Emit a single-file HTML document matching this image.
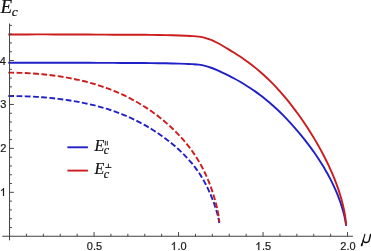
<!DOCTYPE html>
<html><head><meta charset="utf-8"><style>
html,body{margin:0;padding:0;background:#fff;}
body{width:371px;height:251px;overflow:hidden;}
svg{display:block;will-change:transform;}
.ax line{stroke:#484848;stroke-width:1;}
.ax line.m{stroke:#404040;stroke-width:1;}
.lab text{font-family:"Liberation Sans",sans-serif;font-size:11px;fill:#1a1a1a;stroke:#1a1a1a;stroke-width:0.2px;}
.lab path{fill:#1a1a1a;stroke:#1a1a1a;stroke-width:40;}
.it{font-family:"Liberation Serif",serif;font-style:italic;fill:#111;stroke:#111;stroke-width:0.2px;}
</style></head><body>
<svg width="371" height="251" viewBox="0 0 371 251">
<rect width="371" height="251" fill="#fff"/>
<g fill="none" stroke-width="1.9" stroke-linecap="butt" stroke-linejoin="round">
<path d="M8.30 62.81 C9.88 62.80 14.65 62.79 17.79 62.79 C20.93 62.78 24.05 62.77 27.15 62.77 C30.24 62.77 33.32 62.76 36.37 62.76 C39.42 62.76 42.45 62.76 45.45 62.76 C48.46 62.76 51.44 62.76 54.40 62.76 C57.37 62.77 60.30 62.77 63.22 62.77 C66.14 62.77 69.03 62.78 71.90 62.78 C74.77 62.79 77.62 62.79 80.45 62.80 C83.27 62.81 86.07 62.81 88.85 62.82 C91.64 62.83 94.39 62.83 97.13 62.84 C99.87 62.85 102.58 62.86 105.27 62.87 C107.96 62.88 110.63 62.89 113.27 62.90 C115.92 62.91 118.54 62.91 121.14 62.93 C123.74 62.94 126.32 62.95 128.88 62.96 C131.43 62.97 133.97 62.98 136.48 63.00 C138.99 63.01 141.47 63.03 143.94 63.05 C146.41 63.07 148.85 63.09 151.27 63.11 C153.69 63.14 156.09 63.17 158.46 63.20 C160.84 63.23 163.19 63.27 165.52 63.32 C167.85 63.36 170.16 63.41 172.44 63.46 C174.73 63.52 176.99 63.57 179.23 63.64 C181.47 63.71 183.69 63.78 185.88 63.86 C188.08 63.95 190.25 64.01 192.40 64.14 C194.55 64.27 196.68 64.36 198.78 64.64 C200.89 64.92 202.97 65.29 205.03 65.81 C207.09 66.33 209.13 67.04 211.14 67.76 C213.16 68.49 215.15 69.32 217.12 70.16 C219.09 71.00 221.04 71.90 222.96 72.81 C224.89 73.71 226.79 74.65 228.67 75.61 C230.55 76.56 232.41 77.53 234.24 78.52 C236.07 79.51 237.89 80.51 239.68 81.54 C241.47 82.57 243.23 83.62 244.98 84.69 C246.72 85.77 248.44 86.86 250.14 87.97 C251.84 89.09 253.52 90.23 255.17 91.39 C256.83 92.55 258.46 93.74 260.07 94.95 C261.68 96.16 263.27 97.40 264.83 98.66 C266.39 99.92 267.94 101.20 269.46 102.50 C270.98 103.80 272.47 105.12 273.95 106.46 C275.42 107.79 276.87 109.14 278.30 110.51 C279.73 111.87 281.14 113.25 282.52 114.64 C283.90 116.03 285.27 117.43 286.61 118.84 C287.94 120.24 289.26 121.66 290.55 123.08 C291.85 124.50 293.12 125.92 294.37 127.35 C295.62 128.77 296.84 130.20 298.05 131.63 C299.25 133.05 300.43 134.48 301.59 135.90 C302.75 137.32 303.89 138.74 305.00 140.16 C306.12 141.57 307.21 142.99 308.28 144.40 C309.34 145.81 310.39 147.22 311.41 148.62 C312.44 150.02 313.44 151.42 314.42 152.82 C315.40 154.22 316.35 155.61 317.29 157.00 C318.22 158.39 319.13 159.78 320.02 161.16 C320.91 162.55 321.77 163.92 322.62 165.30 C323.46 166.68 324.28 168.05 325.08 169.42 C325.88 170.79 326.65 172.15 327.41 173.51 C328.16 174.87 328.89 176.23 329.60 177.58 C330.31 178.93 330.99 180.28 331.66 181.62 C332.32 182.96 332.96 184.30 333.58 185.63 C334.20 186.96 334.79 188.28 335.36 189.59 C335.94 190.90 336.49 192.20 337.02 193.48 C337.54 194.77 338.05 196.04 338.53 197.30 C339.02 198.55 339.48 199.80 339.91 201.02 C340.35 202.24 340.77 203.45 341.16 204.64 C341.55 205.82 341.92 206.99 342.27 208.14 C342.62 209.28 342.95 210.40 343.25 211.50 C343.55 212.60 343.83 213.67 344.09 214.72 C344.35 215.77 344.58 216.79 344.79 217.78 C345.01 218.77 345.20 219.73 345.36 220.66 C345.53 221.59 345.68 222.49 345.80 223.35 C345.92 224.22 346.05 225.43 346.10 225.84" stroke="#2020c8"/>
<path d="M8.30 34.51 C9.88 34.50 14.65 34.48 17.79 34.46 C20.93 34.45 24.05 34.44 27.15 34.43 C30.24 34.43 33.32 34.42 36.37 34.42 C39.42 34.42 42.45 34.42 45.45 34.42 C48.46 34.43 51.44 34.43 54.40 34.44 C57.37 34.44 60.30 34.45 63.22 34.46 C66.14 34.47 69.03 34.48 71.90 34.49 C74.77 34.51 77.62 34.52 80.45 34.53 C83.27 34.54 86.07 34.56 88.85 34.57 C91.64 34.59 94.39 34.60 97.13 34.62 C99.87 34.63 102.58 34.64 105.27 34.66 C107.96 34.67 110.63 34.68 113.27 34.70 C115.92 34.71 118.54 34.72 121.14 34.73 C123.74 34.74 126.32 34.75 128.88 34.76 C131.43 34.76 133.97 34.77 136.48 34.78 C138.99 34.80 141.47 34.81 143.94 34.82 C146.41 34.84 148.85 34.86 151.27 34.88 C153.69 34.91 156.09 34.93 158.46 34.97 C160.84 35.00 163.19 35.04 165.52 35.08 C167.85 35.13 170.16 35.18 172.44 35.25 C174.73 35.31 176.99 35.38 179.23 35.46 C181.47 35.54 183.69 35.63 185.88 35.73 C188.08 35.83 190.25 35.92 192.40 36.08 C194.55 36.23 196.68 36.36 198.78 36.67 C200.89 36.97 202.97 37.35 205.03 37.91 C207.09 38.46 209.13 39.18 211.14 39.99 C213.16 40.80 215.15 41.76 217.12 42.76 C219.09 43.75 221.04 44.86 222.96 45.96 C224.89 47.05 226.79 48.19 228.67 49.32 C230.55 50.46 232.41 51.60 234.24 52.77 C236.07 53.93 237.89 55.10 239.68 56.30 C241.47 57.49 243.23 58.70 244.98 59.94 C246.72 61.17 248.44 62.43 250.14 63.71 C251.84 64.99 253.52 66.29 255.17 67.62 C256.83 68.95 258.46 70.30 260.07 71.69 C261.68 73.08 263.27 74.50 264.83 75.94 C266.39 77.38 267.94 78.85 269.46 80.35 C270.98 81.84 272.47 83.36 273.95 84.90 C275.42 86.43 276.87 87.99 278.30 89.57 C279.73 91.14 281.14 92.73 282.52 94.34 C283.90 95.94 285.27 97.56 286.61 99.19 C287.94 100.82 289.26 102.46 290.55 104.11 C291.85 105.76 293.12 107.41 294.37 109.07 C295.62 110.73 296.84 112.39 298.05 114.06 C299.25 115.72 300.43 117.38 301.59 119.05 C302.75 120.71 303.89 122.37 305.00 124.03 C306.12 125.69 307.21 127.34 308.28 129.00 C309.34 130.65 310.39 132.30 311.41 133.95 C312.44 135.59 313.44 137.23 314.42 138.87 C315.40 140.51 316.35 142.14 317.29 143.76 C318.22 145.39 319.13 147.01 320.02 148.62 C320.91 150.24 321.77 151.84 322.62 153.44 C323.46 155.04 324.28 156.63 325.08 158.21 C325.88 159.80 326.65 161.37 327.41 162.94 C328.16 164.50 328.89 166.05 329.60 167.60 C330.31 169.14 330.99 170.68 331.66 172.20 C332.32 173.72 332.96 175.23 333.58 176.73 C334.20 178.24 334.79 179.72 335.36 181.20 C335.94 182.68 336.49 184.14 337.02 185.60 C337.54 187.05 338.05 188.49 338.53 189.92 C339.02 191.34 339.48 192.76 339.91 194.16 C340.35 195.56 340.77 196.95 341.16 198.32 C341.55 199.69 341.92 201.05 342.27 202.40 C342.62 203.74 342.95 205.08 343.25 206.39 C343.55 207.71 343.83 209.01 344.09 210.29 C344.35 211.58 344.58 212.85 344.79 214.11 C345.01 215.36 345.20 216.60 345.36 217.82 C345.53 219.04 345.68 220.25 345.80 221.44 C345.92 222.63 346.05 224.37 346.10 224.96" stroke="#cc1c1c"/>
<path d="M8.30 96.01 C9.28 96.02 12.24 96.02 14.19 96.05 C16.14 96.07 18.08 96.10 20.00 96.15 C21.92 96.20 23.83 96.26 25.73 96.33 C27.62 96.40 29.50 96.48 31.37 96.57 C33.23 96.67 35.09 96.77 36.92 96.89 C38.76 97.01 40.59 97.14 42.40 97.28 C44.21 97.42 46.01 97.57 47.79 97.73 C49.57 97.90 51.34 98.07 53.10 98.26 C54.86 98.45 56.60 98.65 58.32 98.85 C60.05 99.06 61.77 99.29 63.47 99.52 C65.17 99.75 66.85 99.99 68.52 100.25 C70.20 100.50 71.86 100.77 73.50 101.05 C75.14 101.33 76.77 101.62 78.39 101.92 C80.01 102.22 81.61 102.53 83.20 102.86 C84.79 103.18 86.36 103.52 87.92 103.87 C89.49 104.22 91.03 104.58 92.57 104.95 C94.10 105.32 95.62 105.70 97.12 106.10 C98.63 106.50 100.12 106.90 101.60 107.32 C103.08 107.74 104.54 108.17 105.99 108.62 C107.44 109.06 108.88 109.52 110.30 109.98 C111.72 110.45 113.13 110.93 114.52 111.42 C115.92 111.91 117.30 112.42 118.66 112.93 C120.03 113.45 121.38 113.98 122.72 114.52 C124.06 115.06 125.39 115.61 126.70 116.18 C128.01 116.74 129.31 117.32 130.59 117.90 C131.87 118.49 133.14 119.09 134.40 119.69 C135.65 120.30 136.89 120.92 138.12 121.54 C139.35 122.17 140.56 122.81 141.76 123.45 C142.96 124.10 144.15 124.76 145.32 125.42 C146.49 126.08 147.65 126.75 148.80 127.44 C149.94 128.12 151.07 128.80 152.19 129.50 C153.30 130.20 154.41 130.90 155.50 131.61 C156.58 132.32 157.66 133.04 158.72 133.76 C159.78 134.48 160.83 135.22 161.86 135.95 C162.89 136.69 163.91 137.43 164.92 138.18 C165.92 138.92 166.92 139.68 167.89 140.43 C168.87 141.19 169.83 141.95 170.78 142.72 C171.73 143.49 172.67 144.26 173.59 145.03 C174.51 145.81 175.42 146.59 176.32 147.37 C177.21 148.16 178.09 148.95 178.96 149.75 C179.83 150.54 180.68 151.34 181.52 152.15 C182.36 152.96 183.18 153.77 183.99 154.59 C184.80 155.41 185.60 156.24 186.38 157.07 C187.17 157.90 187.93 158.74 188.69 159.59 C189.45 160.43 190.19 161.28 190.91 162.14 C191.64 163.00 192.36 163.87 193.06 164.75 C193.76 165.62 194.44 166.50 195.11 167.39 C195.79 168.28 196.44 169.18 197.09 170.09 C197.73 170.99 198.36 171.91 198.98 172.83 C199.60 173.76 200.20 174.69 200.79 175.63 C201.38 176.57 201.95 177.52 202.51 178.47 C203.07 179.42 203.62 180.39 204.15 181.35 C204.69 182.31 205.21 183.28 205.71 184.25 C206.22 185.21 206.71 186.19 207.18 187.15 C207.66 188.12 208.13 189.09 208.58 190.06 C209.03 191.02 209.46 191.99 209.88 192.94 C210.31 193.90 210.71 194.85 211.11 195.80 C211.50 196.74 211.88 197.68 212.25 198.61 C212.62 199.54 212.97 200.46 213.31 201.37 C213.65 202.27 213.97 203.17 214.28 204.05 C214.59 204.93 214.89 205.80 215.17 206.66 C215.46 207.51 215.72 208.35 215.98 209.17 C216.24 209.99 216.48 210.79 216.70 211.57 C216.93 212.35 217.15 213.11 217.35 213.85 C217.55 214.59 217.73 215.31 217.90 216.00 C218.07 216.69 218.23 217.36 218.38 218.00 C218.52 218.64 218.65 219.25 218.77 219.84 C218.88 220.42 218.99 220.98 219.08 221.51 C219.16 222.03 219.26 222.74 219.30 222.99" stroke="#2020c8" stroke-dasharray="5.77 2.455"/>
<path d="M8.30 72.60 C9.28 72.62 12.24 72.64 14.19 72.68 C16.14 72.72 18.08 72.77 20.00 72.83 C21.92 72.90 23.83 72.98 25.73 73.07 C27.62 73.16 29.50 73.26 31.37 73.38 C33.23 73.50 35.09 73.64 36.92 73.78 C38.76 73.93 40.59 74.09 42.40 74.26 C44.21 74.43 46.01 74.62 47.79 74.82 C49.57 75.02 51.34 75.23 53.10 75.46 C54.86 75.69 56.60 75.93 58.32 76.18 C60.05 76.44 61.77 76.71 63.47 76.99 C65.17 77.27 66.85 77.56 68.52 77.87 C70.20 78.18 71.86 78.50 73.50 78.84 C75.14 79.17 76.77 79.52 78.39 79.88 C80.01 80.25 81.61 80.62 83.20 81.01 C84.79 81.40 86.36 81.80 87.92 82.22 C89.49 82.63 91.03 83.06 92.57 83.50 C94.10 83.95 95.62 84.40 97.12 84.87 C98.63 85.34 100.12 85.82 101.60 86.31 C103.08 86.81 104.54 87.32 105.99 87.84 C107.44 88.36 108.88 88.89 110.30 89.44 C111.72 89.98 113.13 90.54 114.52 91.11 C115.92 91.69 117.30 92.27 118.66 92.87 C120.03 93.47 121.38 94.08 122.72 94.70 C124.06 95.33 125.39 95.96 126.70 96.61 C128.01 97.26 129.31 97.92 130.59 98.59 C131.87 99.26 133.14 99.94 134.40 100.64 C135.65 101.33 136.89 102.04 138.12 102.75 C139.35 103.47 140.56 104.19 141.76 104.93 C142.96 105.67 144.15 106.41 145.32 107.17 C146.49 107.93 147.65 108.69 148.80 109.47 C149.94 110.24 151.07 111.03 152.19 111.82 C153.30 112.61 154.41 113.42 155.50 114.23 C156.58 115.04 157.66 115.85 158.72 116.68 C159.78 117.51 160.83 118.34 161.86 119.18 C162.89 120.02 163.91 120.87 164.92 121.73 C165.92 122.58 166.92 123.45 167.89 124.31 C168.87 125.18 169.83 126.06 170.78 126.94 C171.73 127.82 172.67 128.71 173.59 129.60 C174.51 130.49 175.42 131.39 176.32 132.30 C177.21 133.21 178.09 134.12 178.96 135.04 C179.83 135.96 180.68 136.88 181.52 137.82 C182.36 138.75 183.18 139.69 183.99 140.64 C184.80 141.58 185.60 142.54 186.38 143.50 C187.17 144.46 187.93 145.43 188.69 146.40 C189.45 147.38 190.19 148.36 190.91 149.35 C191.64 150.34 192.36 151.34 193.06 152.35 C193.76 153.36 194.44 154.37 195.11 155.39 C195.79 156.41 196.44 157.44 197.09 158.48 C197.73 159.52 198.36 160.57 198.98 161.62 C199.60 162.68 200.20 163.74 200.79 164.81 C201.38 165.88 201.95 166.96 202.51 168.05 C203.07 169.13 203.62 170.23 204.15 171.32 C204.69 172.42 205.21 173.52 205.71 174.62 C206.22 175.72 206.71 176.82 207.18 177.93 C207.66 179.03 208.13 180.14 208.58 181.24 C209.03 182.34 209.46 183.45 209.88 184.55 C210.31 185.65 210.71 186.74 211.11 187.84 C211.50 188.93 211.88 190.01 212.25 191.09 C212.62 192.17 212.97 193.25 213.31 194.31 C213.65 195.38 213.97 196.44 214.28 197.48 C214.59 198.53 214.89 199.57 215.17 200.59 C215.46 201.61 215.72 202.63 215.98 203.62 C216.24 204.62 216.48 205.61 216.70 206.58 C216.93 207.54 217.15 208.50 217.35 209.44 C217.55 210.37 217.73 211.29 217.90 212.19 C218.07 213.09 218.23 213.97 218.38 214.83 C218.52 215.69 218.65 216.53 218.77 217.34 C218.88 218.16 218.99 218.95 219.08 219.72 C219.16 220.49 219.26 221.58 219.30 221.95" stroke="#cc1c1c" stroke-dasharray="5.8 2.47"/>
</g>
<g class="ax">
<line class="m" x1="9.55" y1="23.5" x2="9.55" y2="240.3" />
<line class="m" x1="2.3" y1="236.25" x2="352.9" y2="236.25" />
<line x1="9.55" y1="227.46" x2="11.95" y2="227.46"/><line x1="9.55" y1="218.68" x2="11.95" y2="218.68"/><line x1="9.55" y1="209.89" x2="11.95" y2="209.89"/><line x1="9.55" y1="201.11" x2="11.95" y2="201.11"/><line x1="9.55" y1="192.32" x2="13.85" y2="192.32"/><line x1="9.55" y1="183.53" x2="11.95" y2="183.53"/><line x1="9.55" y1="174.75" x2="11.95" y2="174.75"/><line x1="9.55" y1="165.96" x2="11.95" y2="165.96"/><line x1="9.55" y1="157.18" x2="11.95" y2="157.18"/><line x1="9.55" y1="148.39" x2="13.85" y2="148.39"/><line x1="9.55" y1="139.60" x2="11.95" y2="139.60"/><line x1="9.55" y1="130.82" x2="11.95" y2="130.82"/><line x1="9.55" y1="122.03" x2="11.95" y2="122.03"/><line x1="9.55" y1="113.25" x2="11.95" y2="113.25"/><line x1="9.55" y1="104.46" x2="13.85" y2="104.46"/><line x1="9.55" y1="95.67" x2="11.95" y2="95.67"/><line x1="9.55" y1="86.89" x2="11.95" y2="86.89"/><line x1="9.55" y1="78.10" x2="11.95" y2="78.10"/><line x1="9.55" y1="69.32" x2="11.95" y2="69.32"/><line x1="9.55" y1="60.53" x2="13.85" y2="60.53"/><line x1="9.55" y1="51.74" x2="11.95" y2="51.74"/><line x1="9.55" y1="42.96" x2="11.95" y2="42.96"/><line x1="9.55" y1="34.17" x2="11.95" y2="34.17"/><line x1="9.55" y1="25.39" x2="11.95" y2="25.39"/><line x1="26.45" y1="236.25" x2="26.45" y2="233.75"/><line x1="43.35" y1="236.25" x2="43.35" y2="233.75"/><line x1="60.25" y1="236.25" x2="60.25" y2="233.75"/><line x1="77.15" y1="236.25" x2="77.15" y2="233.75"/><line x1="94.05" y1="236.25" x2="94.05" y2="232.05"/><line x1="110.95" y1="236.25" x2="110.95" y2="233.75"/><line x1="127.85" y1="236.25" x2="127.85" y2="233.75"/><line x1="144.75" y1="236.25" x2="144.75" y2="233.75"/><line x1="161.65" y1="236.25" x2="161.65" y2="233.75"/><line x1="178.55" y1="236.25" x2="178.55" y2="232.05"/><line x1="195.45" y1="236.25" x2="195.45" y2="233.75"/><line x1="212.35" y1="236.25" x2="212.35" y2="233.75"/><line x1="229.25" y1="236.25" x2="229.25" y2="233.75"/><line x1="246.15" y1="236.25" x2="246.15" y2="233.75"/><line x1="263.05" y1="236.25" x2="263.05" y2="232.05"/><line x1="279.95" y1="236.25" x2="279.95" y2="233.75"/><line x1="296.85" y1="236.25" x2="296.85" y2="233.75"/><line x1="313.75" y1="236.25" x2="313.75" y2="233.75"/><line x1="330.65" y1="236.25" x2="330.65" y2="233.75"/><line x1="347.55" y1="236.25" x2="347.55" y2="232.05"/>
</g>
<g class="lab"><path d="M763 0H583V1147Q518 1085 412.5 1023Q307 961 223 930V1104Q374 1175 487 1276Q600 1377 647 1472H763Z" transform="translate(-0.10 196.00) scale(0.005371 -0.005371)"/><text x="6.40" y="152" text-anchor="end">2</text><text x="6.40" y="108" text-anchor="end">3</text><text x="5.90" y="65" text-anchor="end">4</text><text x="94.45" y="250.4" text-anchor="middle">0.5</text><path d="M763 0H583V1147Q518 1085 412.5 1023Q307 961 223 930V1104Q374 1175 487 1276Q600 1377 647 1472H763Z" transform="translate(170.70 250.00) scale(0.005371 -0.005371)"/><text x="177.42" y="250.4">.0</text><path d="M763 0H583V1147Q518 1085 412.5 1023Q307 961 223 930V1104Q374 1175 487 1276Q600 1377 647 1472H763Z" transform="translate(255.20 250.00) scale(0.005371 -0.005371)"/><text x="261.92" y="250.4">.5</text><text x="347.95" y="250.4" text-anchor="middle">2.0</text></g>
<text class="it" x="0.6" y="13.2" font-size="19">E<tspan font-size="13.5" dy="2.8" dx="-0.4">c</tspan></text>
<g fill="none" stroke="#111" stroke-linecap="round" stroke-linejoin="round">
<path d="M364.9 234.3 L361.7 245.4" stroke-width="1.15"/>
<path d="M361.9 244.2 L361.6 245.5" stroke-width="1.7"/>
<path d="M363.4 240.0 C363.2 241.6 364.0 242.4 365.5 242.5 C367.2 242.6 368.7 242.2 369.2 240.4 L370.6 234.4" stroke-width="1.45"/>
</g>
<g fill="none" stroke-width="1.9">
<line x1="67.4" y1="147.3" x2="87.9" y2="147.3" stroke="#2020c8"/>
<line x1="67.4" y1="170.6" x2="87.9" y2="170.6" stroke="#cc1c1c"/>
</g>
<text class="it" x="94.5" y="150.7" font-size="16">E<tspan font-size="11.8" dy="3.2" dx="-0.6">c</tspan></text>
<text class="it" x="94.5" y="174.3" font-size="16">E<tspan font-size="11.8" dy="3.2" dx="-0.6">c</tspan></text>
<g stroke="#111" stroke-width="0.9" fill="none">
<line x1="105.3" y1="140.9" x2="105.3" y2="145.5"/><line x1="107.3" y1="140.9" x2="107.3" y2="145.5"/>
<line x1="105.3" y1="167.5" x2="111.4" y2="167.5"/><line x1="108.4" y1="163.6" x2="108.4" y2="167.5"/>
</g>
</svg>
</body></html>
